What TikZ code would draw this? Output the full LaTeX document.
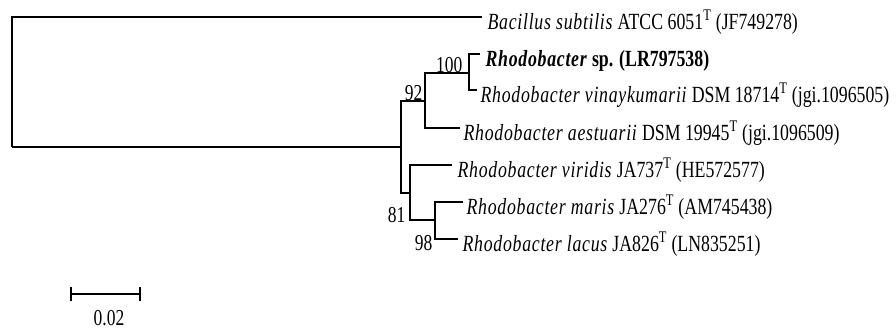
\documentclass[tikz,border=0pt]{standalone}
\usepackage{fontspec}
\setmainfont{Liberation Serif}[ItalicFeatures={LetterSpace=4},BoldItalicFeatures={LetterSpace=4}]
\usetikzlibrary{positioning}
\newcommand{\tallt}[1]{\scalebox{1}[1.3]{#1}}
\begin{document}
\begin{tikzpicture}[x=1pt,y=-1pt,line width=1.3pt,
    leaf/.style={anchor=west,inner sep=0pt,text height=24pt,text depth=0pt,
      font=\fontsize{17.8}{20}\selectfont},
    boot/.style={anchor=base east,inner sep=0pt,font=\fontsize{17.5}{19}\selectfont}]
                \useasboundingbox (0,0) rectangle (896,330);
                % internal nodes
                \coordinate (root) at (12,147);
                \coordinate (ingroup) at (401,147);
                \coordinate (n92) at (425,101);
                \coordinate (n100) at (469,73);
                \coordinate (n81) at (410,193);
                \coordinate (n98) at (435,220);
                % leaves
                \node[leaf] (bac) at (487,17) {\tallt{\textit{Bacillus subtilis} ATCC 6051\textsuperscript{T} (JF749278)}};
                \node[leaf] (rsp) at (485,54) {\tallt{\textbf{\textit{Rhodobacter} sp. (LR797538)}}};
                \node[leaf] (vin) at (480,90) {\tallt{\textit{Rhodobacter vinaykumarii} DSM 18714\textsuperscript{T} (jgi.1096505)}};
                \node[leaf] (aes) at (463,128) {\tallt{\textit{Rhodobacter aestuarii} DSM 19945\textsuperscript{T} (jgi.1096509)}};
                \node[leaf] (vir) at (457,165) {\tallt{\textit{Rhodobacter viridis} JA737\textsuperscript{T} (HE572577)}};
                \node[leaf] (mar) at (466,202) {\tallt{\textit{Rhodobacter maris} JA276\textsuperscript{T} (AM745438)}};
                \node[leaf] (lac) at (462,239) {\tallt{\textit{Rhodobacter lacus} JA826\textsuperscript{T} (LN835251)}};
                % branches
                \draw (root) |- ([xshift=-5pt]bac.west);
                \draw (root) -- (ingroup);
                \draw (ingroup) |- (n92);
                \draw (ingroup) |- (n81);
                \draw (n92) |- (n100);
                \draw (n92) |- ([xshift=-3pt]aes.west);
                \draw (n100) |- ([xshift=-5pt]rsp.west);
                \draw (n100) |- ([xshift=-3pt]vin.west);
                \draw (n81) |- ([xshift=-5pt]vir.west);
                \draw (n81) |- (n98);
                \draw (n98) |- ([xshift=-3pt]mar.west);
                \draw (n98) |- ([xshift=-4pt]lac.west);
                % bootstrap values
                \node[boot] (b100) at (463,72) {\tallt{100}};
                \node[boot] (b92) at (423,100) {\tallt{92}};
                \node[boot] (b81) at (406,222) {\tallt{81}};
                \node[boot] (b98) at (433,250) {\tallt{98}};
                % scale bar
                \coordinate (sbl) at (71,294);
                \coordinate (sbr) at (140,294);
                \draw (sbl) -- (sbr);
                \draw (sbl) ++(0,-7) -- ++(0,14);
                \draw (sbr) ++(0,-7) -- ++(0,14);
                \node[boot,anchor=base] (sblab) at (109,325) {\tallt{0.02}};
            \end{tikzpicture}
\end{document}
